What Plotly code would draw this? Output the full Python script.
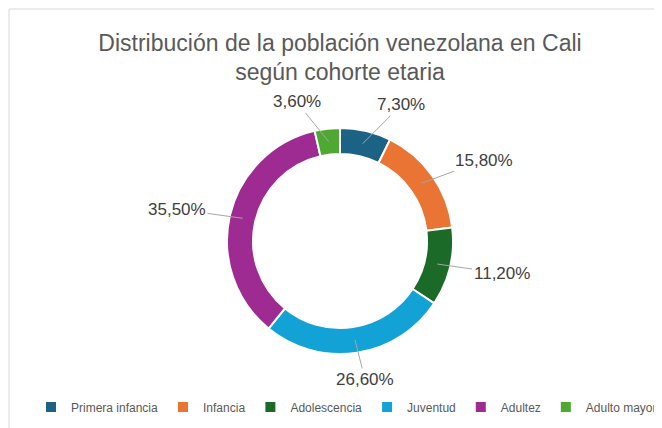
import math

import plotly.graph_objects as go

# data
cohorts = ["Primera infancia", "Infancia", "Adolescencia", "Juventud", "Adultez", "Adulto mayor"]
shares = [7.3, 15.8, 11.2, 26.6, 35.5, 3.6]
colors = ["#1b6284", "#ea7433", "#1c6a28", "#12a2d6", "#9e2b91", "#4ea832"]

# the page body has an 8px margin, so the figure is drawn 8px in from the corner
W, H = 654, 420
CX, CY = 332, 233          # pie centre, px in figure
R_OUT, R_IN = 113, 87      # ring radii, px
FONT = "Liberation Sans"


def fmt(v):
    return f"{v:.2f}".replace(".", ",") + "%"


fig = go.Figure()
fig.add_trace(
    go.Pie(
        labels=cohorts,
        values=shares,
        sort=False,
        direction="clockwise",
        rotation=0,
        hole=R_IN / R_OUT,
        marker=dict(colors=colors, line=dict(color="white", width=2)),
        textinfo="none",
        hoverinfo="label+percent",
        domain=dict(x=[(CX - R_OUT) / W, (CX + R_OUT) / W],
                    y=[1 - (CY + R_OUT) / H, 1 - (CY - R_OUT) / H]),
    )
)

# outside labels with leader lines, placed from each slice's mid angle;
# labels near the top are spread sideways so they do not collide
total = sum(shares)
cum = 0.0
r_mid = (R_OUT + R_IN) / 2
for v in shares:
    theta = math.radians((cum + v / 2) / total * 360)
    cum += v
    s, c = math.sin(theta), math.cos(theta)
    px = CX + r_mid * s
    py = CY - r_mid * c
    spread = 25 * max(c, 0) ** 2 * (1 if s >= 0 else -1)
    fig.add_annotation(
        x=px / W, y=1 - py / H, xref="paper", yref="paper",
        text=fmt(v), showarrow=True, arrowhead=0, arrowwidth=1,
        arrowcolor="#a6a6a6", standoff=0,
        ax=s * 66 + spread, ay=-c * 40,
        font=dict(family=FONT, size=17, color="#404040"),
    )

# chart frame (only the top/left edges are visible in the reference)
fig.add_shape(type="line", xref="paper", yref="paper",
              x0=1 / W, y0=1 - 1 / H, x1=1.01, y1=1 - 1 / H,
              line=dict(color="#d9d9d9", width=1))
fig.add_shape(type="line", xref="paper", yref="paper",
              x0=1 / W, y0=1 - 1 / H, x1=1 / W, y1=-0.01,
              line=dict(color="#d9d9d9", width=1))

fig.update_layout(
    width=W, height=H,
    margin=dict(l=0, r=0, t=0, b=0),
    paper_bgcolor="white",
    plot_bgcolor="white",
    font=dict(family=FONT, color="#595959"),
    title=dict(
        text="Distribución de la población venezolana en Cali<br>según cohorte etaria",
        x=CX / W, xanchor="center", y=1 - 42.5 / H, yanchor="middle",
        font=dict(family=FONT, size=23, color="#595959"),
    ),
    legend=dict(
        orientation="h", x=0.525, xanchor="center", y=1 - 399 / H, yanchor="middle",
        font=dict(family=FONT, size=12, color="#595959"),
        itemwidth=30, tracegroupgap=0,
    ),
)

fig.write_html("out.html")
